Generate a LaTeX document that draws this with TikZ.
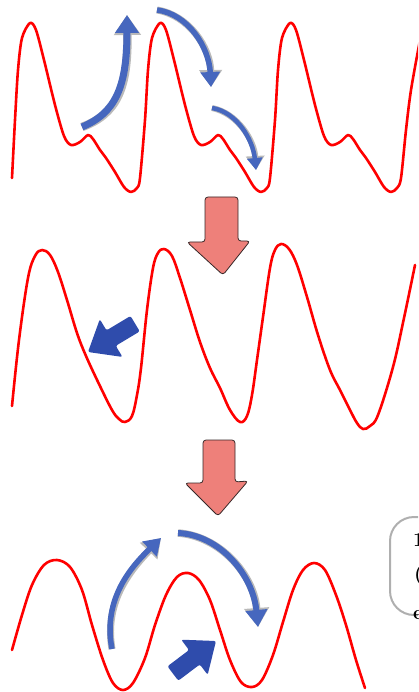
\documentclass[tikz,border=0pt]{standalone}
\usetikzlibrary{arrows.meta}
\definecolor{wavec}{RGB}{255,0,0}
\definecolor{bluec}{RGB}{70,103,190}
\definecolor{blued}{RGB}{47,76,172}
\definecolor{redf}{RGB}{238,128,122}
\definecolor{redo}{RGB}{55,40,40}
\definecolor{shad}{RGB}{185,185,185}
\definecolor{boxc}{RGB}{175,175,175}
\begin{document}
\begin{tikzpicture}[x=1pt,y=-1pt,
  wave/.style={draw=wavec, line width=2.6pt, line join=round, line cap=round},
  redarrow/.style={fill=redf, draw=redo, line width=0.8pt, rounded corners=3pt},
  blockarrow/.style={fill=blued, rounded corners=2pt},
  cshadow/.style={draw=shad},
  cblue/.style={draw=bluec},
  glyph/.style={anchor=base west, inner sep=0pt, font=\fontsize{20}{22}\selectfont\bfseries}]
\useasboundingbox (0,0) rectangle (418,692);
\clip (0,0) rectangle (418,692);

% ---------- row 1 wave ----------
\draw[wave] plot[smooth, tension=0.5] coordinates {
 (12,178) (15,120) (18,70) (22,38) (30,23) (36,30) (44,60) (55,105) (64,136) (71,145)
 (80,142) (88,135) (93,139) (100,150) (106,158) (115,172) (124,187) (131,192) (137,188) (140,178)
 (145,120) (148,70) (152,38) (160,23) (166,30) (174,60) (185,105) (194,136) (201,145)
 (210,142) (218,135) (223,139) (230,150) (236,158) (245,172) (254,187) (261,192) (267,188) (270,178)
 (275,120) (278,70) (282,38) (290,23) (296,30) (304,60) (315,105) (324,136) (331,145)
 (340,142) (348,135) (353,139) (360,150) (366,158) (375,172) (384,187) (391,192) (397,188) (401,178)
 (406,130) (411,90) (420,40)};

% ---------- row 2 wave ----------
\draw[wave] plot[smooth, tension=0.6] coordinates {
 (12,406) (19,340) (28,278) (35,256) (42,250) (50,255) (58,272) (67,300) (77,333)
 (86,356) (99,384) (112,410) (119,419) (125,422) (132,416) (137,395) (141,368) (147,310)
 (153,268) (158,253) (164,249) (172,256) (180,278) (190,310) (200,342) (210,368)
 (220,388) (230,410) (240,422) (247,416) (252,395) (257,360) (263,317) (270,268)
 (275,250) (281,244) (289,249) (297,265) (307,297) (318,335) (330,370) (340,390)
 (350,410) (357,423) (363,429) (370,426) (378,415) (393,367) (404,318) (415,265)};

% ---------- row 3 wave ----------
\draw[wave] plot[smooth, tension=0.55] coordinates {
 (12,650) (22,615) (32,585) (44,565) (57,560) (70,567) (82,590) (92,625) (103,660) (113,683)
 (123,690) (133,683) (145,658) (155,625) (166,595) (177,577) (188,573) (199,580) (210,600)
 (220,630) (230,660) (241,682) (252,687) (262,680) (273,655) (283,622) (293,590) (303,570)
 (314,563) (325,570) (336,595) (346,625) (356,660) (365,688)};

% ---------- curved blue arrows ----------
\coordinate (aT) at (82,127);  \coordinate (aH) at (127,15);
\coordinate (bT) at (157,10);  \coordinate (bH) at (211,87);
\coordinate (cT) at (212,108); \coordinate (cH) at (256,170);
\coordinate (fT) at (112,649); \coordinate (fH) at (161,538);
\coordinate (gT) at (178,533); \coordinate (gH) at (258,627);

\begin{scope}[shift={(1.3,1.3)}]
\draw[cshadow, line width=8.5pt, -{Triangle[width=26pt,length=20pt]}] (aT) .. controls (115,113) and (127,88) .. (aH);
\draw[cshadow, line width=7pt, -{Triangle[width=22pt,length=17pt]}] (bT) .. controls (188,14) and (209,47) .. (bH);
\draw[cshadow, line width=6pt, -{Triangle[width=18pt,length=14pt]}] (cT) .. controls (237,112) and (253,140) .. (cH);
\draw[cshadow, line width=7pt, -{Triangle[width=23pt,length=18pt]}] (fT) .. controls (102,598) and (133,565) .. (fH);
\draw[cshadow, line width=7.5pt, -{Triangle[width=24pt,length=19pt]}] (gT) .. controls (220,535) and (253,575) .. (gH);
\end{scope}
\draw[cblue, line width=7pt, -{Triangle[width=23pt,length=18pt]}] (aT) .. controls (115,113) and (127,88) .. (aH);
\draw[cblue, line width=5.5pt, -{Triangle[width=19pt,length=15pt]}] (bT) .. controls (188,14) and (209,47) .. (bH);
\draw[cblue, line width=4.5pt, -{Triangle[width=15pt,length=12pt]}] (cT) .. controls (237,112) and (253,140) .. (cH);
\draw[cblue, line width=5.5pt, -{Triangle[width=20pt,length=16pt]}] (fT) .. controls (102,598) and (133,565) .. (fH);
\draw[cblue, line width=6pt, -{Triangle[width=21pt,length=17pt]}] (gT) .. controls (220,535) and (253,575) .. (gH);

% ---------- red down arrows ----------
\filldraw[redarrow] (205,197) -- (238,197) -- (238,241) -- (250,241) -- (223,275) -- (187,242) -- (205,242) -- cycle;
\filldraw[redarrow] (203,440) -- (235,440) -- (235,482) -- (248,481) -- (218,516) -- (185,483) -- (203,483) -- cycle;

% ---------- block blue arrows ----------
\begin{scope}[shift={(88,352)}, rotate=31]
\fill[blockarrow] (0,0) -- (27,22) -- (27,9) -- (55,9) -- (55,-9) -- (27,-9) -- (27,-22) -- cycle;
\end{scope}
\begin{scope}[shift={(216,641)}, rotate=217]
\fill[blockarrow] (0,0) -- (27,22) -- (27,9) -- (54,9) -- (54,-9) -- (27,-9) -- (27,-22) -- cycle;
\end{scope}

% ---------- partial box at the right edge ----------
\draw[boxc, line width=2pt, rounded corners=24pt] (440,517) -- (390,517) -- (390,615) -- (440,615);
\node[glyph] (g1) at (413,546) {1};
\node[glyph] (g2) at (414,580) {(};
\node[glyph] (g3) at (413,619) {e};
\end{tikzpicture}
\end{document}
